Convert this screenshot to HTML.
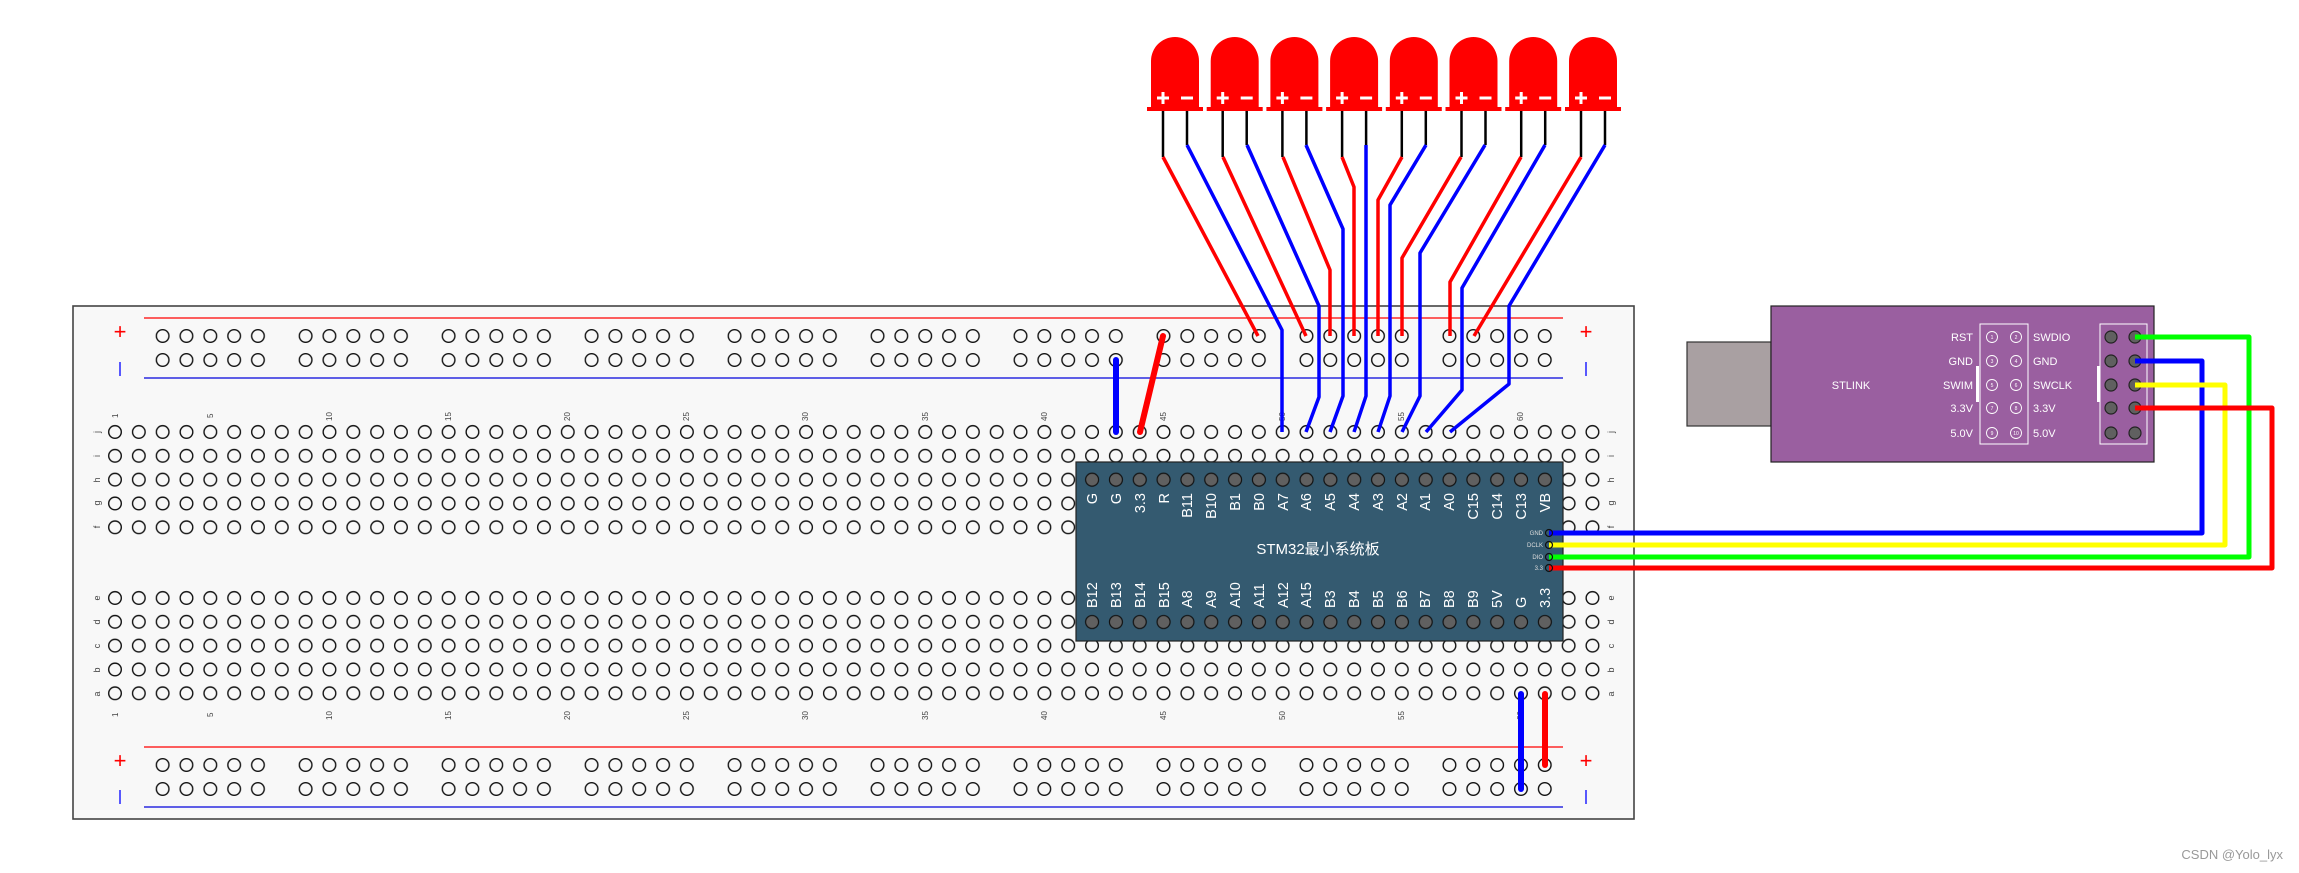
<!DOCTYPE html>
<html><head><meta charset="utf-8"><style>
html,body{margin:0;padding:0;background:#fff;}
svg{display:block;}
text{font-family:"Liberation Sans","DejaVu Sans","Noto Sans CJK SC",sans-serif;}
</style></head><body>
<svg width="2299" height="873" viewBox="0 0 2299 873" xmlns="http://www.w3.org/2000/svg">
<defs>
<pattern id="hole" x="103.1" y="420.1" width="23.83" height="23.83" patternUnits="userSpaceOnUse">
<circle cx="11.9" cy="11.9" r="6.3" fill="none" stroke="#111" stroke-width="1.4"/>
</pattern>
<pattern id="holeB" x="103.1" y="586.1" width="23.83" height="23.83" patternUnits="userSpaceOnUse">
<circle cx="11.9" cy="11.9" r="6.3" fill="none" stroke="#111" stroke-width="1.4"/>
</pattern>
<pattern id="rail" x="150.75" y="324" width="142.98" height="24" patternUnits="userSpaceOnUse">
<circle cx="11.9" cy="12" r="6.3" fill="none" stroke="#111" stroke-width="1.4"/>
<circle cx="35.7" cy="12" r="6.3" fill="none" stroke="#111" stroke-width="1.4"/>
<circle cx="59.6" cy="12" r="6.3" fill="none" stroke="#111" stroke-width="1.4"/>
<circle cx="83.4" cy="12" r="6.3" fill="none" stroke="#111" stroke-width="1.4"/>
<circle cx="107.2" cy="12" r="6.3" fill="none" stroke="#111" stroke-width="1.4"/>
</pattern>
<pattern id="railB" x="150.75" y="753" width="142.98" height="24" patternUnits="userSpaceOnUse">
<circle cx="11.9" cy="12" r="6.3" fill="none" stroke="#111" stroke-width="1.4"/>
<circle cx="35.7" cy="12" r="6.3" fill="none" stroke="#111" stroke-width="1.4"/>
<circle cx="59.6" cy="12" r="6.3" fill="none" stroke="#111" stroke-width="1.4"/>
<circle cx="83.4" cy="12" r="6.3" fill="none" stroke="#111" stroke-width="1.4"/>
<circle cx="107.2" cy="12" r="6.3" fill="none" stroke="#111" stroke-width="1.4"/>
</pattern>
<pattern id="pin" x="1080.2" y="467.7" width="23.83" height="300" patternUnits="userSpaceOnUse">
<circle cx="11.9" cy="12" r="6.5" fill="#606060" stroke="#111" stroke-width="1.2"/>
<circle cx="11.9" cy="154.3" r="6.5" fill="#606060" stroke="#111" stroke-width="1.2"/>
</pattern>
<g id="led">
<path d="M0,61 A24,24 0 0 1 48,61 L48,70 L48,107 L52,107 L52,111 L-4,111 L-4,107 L0,107 Z" fill="#ff0000"/>
<rect x="6" y="96.5" width="12" height="3" fill="#fff"/>
<rect x="10.5" y="92" width="3" height="12" fill="#fff"/>
<rect x="30" y="96.5" width="12" height="3" fill="#fff"/>
<line x1="12" y1="111" x2="12" y2="157" stroke="#000" stroke-width="2.5"/>
<line x1="36" y1="111" x2="36" y2="145" stroke="#000" stroke-width="2.5"/>
</g>
</defs>
<g transform="translate(0,-24)" opacity="0"></g>

<!-- breadboard -->
<rect x="73" y="306" width="1561" height="513" fill="#f8f8f8" stroke="#444" stroke-width="1.6"/>
<line x1="144" y1="318" x2="1563" y2="318" stroke="#f00" stroke-width="1.3"/>
<line x1="144" y1="378" x2="1563" y2="378" stroke="#2a2ae0" stroke-width="1.6"/>
<line x1="144" y1="747" x2="1563" y2="747" stroke="#f00" stroke-width="1.3"/>
<line x1="144" y1="807" x2="1563" y2="807" stroke="#2a2ae0" stroke-width="1.6"/>
<rect x="150.75" y="324" width="1429.8" height="48" fill="url(#rail)"/>
<rect x="150.75" y="753" width="1429.8" height="48" fill="url(#railB)"/>
<rect x="103.1" y="420.1" width="1501.3" height="119.2" fill="url(#hole)"/>
<rect x="103.1" y="586.1" width="1501.3" height="119.2" fill="url(#holeB)"/>
<g fill="#f00" font-size="22" text-anchor="middle">
<text x="120" y="339">+</text><text x="1586" y="339">+</text>
<text x="120" y="768">+</text><text x="1586" y="768">+</text>
</g>
<g stroke="#22f" stroke-width="1.5">
<line x1="120" y1="362" x2="120" y2="376"/><line x1="1586" y1="362" x2="1586" y2="376"/>
<line x1="120" y1="790" x2="120" y2="804"/><line x1="1586" y1="790" x2="1586" y2="804"/>
</g>
<g font-size="8" fill="#444">
<text transform="translate(118,418) rotate(-90)">1</text>
<text transform="translate(213,418) rotate(-90)">5</text>
<text transform="translate(332,421) rotate(-90)">10</text>
<text transform="translate(451,421) rotate(-90)">15</text>
<text transform="translate(570,421) rotate(-90)">20</text>
<text transform="translate(689,421) rotate(-90)">25</text>
<text transform="translate(808,421) rotate(-90)">30</text>
<text transform="translate(928,421) rotate(-90)">35</text>
<text transform="translate(1047,421) rotate(-90)">40</text>
<text transform="translate(1166,421) rotate(-90)">45</text>
<text transform="translate(1285,421) rotate(-90)">50</text>
<text transform="translate(1404,421) rotate(-90)">55</text>
<text transform="translate(1523,421) rotate(-90)">60</text>
<text transform="translate(118,717) rotate(-90)">1</text>
<text transform="translate(213,717) rotate(-90)">5</text>
<text transform="translate(332,720) rotate(-90)">10</text>
<text transform="translate(451,720) rotate(-90)">15</text>
<text transform="translate(570,720) rotate(-90)">20</text>
<text transform="translate(689,720) rotate(-90)">25</text>
<text transform="translate(808,720) rotate(-90)">30</text>
<text transform="translate(928,720) rotate(-90)">35</text>
<text transform="translate(1047,720) rotate(-90)">40</text>
<text transform="translate(1166,720) rotate(-90)">45</text>
<text transform="translate(1285,720) rotate(-90)">50</text>
<text transform="translate(1404,720) rotate(-90)">55</text>
<text transform="translate(1523,720) rotate(-90)">60</text>
</g>
<g font-size="9" fill="#444" text-anchor="middle">
<text transform="translate(100,432) rotate(-90)">j</text>
<text transform="translate(100,456) rotate(-90)">i</text>
<text transform="translate(100,480) rotate(-90)">h</text>
<text transform="translate(100,503) rotate(-90)">g</text>
<text transform="translate(100,527) rotate(-90)">f</text>
<text transform="translate(100,598) rotate(-90)">e</text>
<text transform="translate(100,622) rotate(-90)">d</text>
<text transform="translate(100,646) rotate(-90)">c</text>
<text transform="translate(100,670) rotate(-90)">b</text>
<text transform="translate(100,694) rotate(-90)">a</text>
<text transform="translate(1614,432) rotate(-90)">j</text>
<text transform="translate(1614,456) rotate(-90)">i</text>
<text transform="translate(1614,480) rotate(-90)">h</text>
<text transform="translate(1614,503) rotate(-90)">g</text>
<text transform="translate(1614,527) rotate(-90)">f</text>
<text transform="translate(1614,598) rotate(-90)">e</text>
<text transform="translate(1614,622) rotate(-90)">d</text>
<text transform="translate(1614,646) rotate(-90)">c</text>
<text transform="translate(1614,670) rotate(-90)">b</text>
<text transform="translate(1614,694) rotate(-90)">a</text>
</g>

<!-- STM32 board -->
<rect x="1076" y="462" width="487" height="179" fill="#345a70" stroke="#222" stroke-width="1.2"/>
<rect x="1080.2" y="467.7" width="476.6" height="170" fill="url(#pin)"/>
<g fill="#fff" font-size="14.5" text-anchor="end">
<text transform="translate(1097,493) rotate(-90)">G</text>
<text transform="translate(1121,493) rotate(-90)">G</text>
<text transform="translate(1145,493) rotate(-90)">3.3</text>
<text transform="translate(1169,493) rotate(-90)">R</text>
<text transform="translate(1192,493) rotate(-90)">B11</text>
<text transform="translate(1216,493) rotate(-90)">B10</text>
<text transform="translate(1240,493) rotate(-90)">B1</text>
<text transform="translate(1264,493) rotate(-90)">B0</text>
<text transform="translate(1288,493) rotate(-90)">A7</text>
<text transform="translate(1311,493) rotate(-90)">A6</text>
<text transform="translate(1335,493) rotate(-90)">A5</text>
<text transform="translate(1359,493) rotate(-90)">A4</text>
<text transform="translate(1383,493) rotate(-90)">A3</text>
<text transform="translate(1407,493) rotate(-90)">A2</text>
<text transform="translate(1430,493) rotate(-90)">A1</text>
<text transform="translate(1454,493) rotate(-90)">A0</text>
<text transform="translate(1478,493) rotate(-90)">C15</text>
<text transform="translate(1502,493) rotate(-90)">C14</text>
<text transform="translate(1526,493) rotate(-90)">C13</text>
<text transform="translate(1550,493) rotate(-90)">VB</text>
</g>
<g fill="#fff" font-size="14.5" text-anchor="start">
<text transform="translate(1097,608) rotate(-90)">B12</text>
<text transform="translate(1121,608) rotate(-90)">B13</text>
<text transform="translate(1145,608) rotate(-90)">B14</text>
<text transform="translate(1169,608) rotate(-90)">B15</text>
<text transform="translate(1192,608) rotate(-90)">A8</text>
<text transform="translate(1216,608) rotate(-90)">A9</text>
<text transform="translate(1240,608) rotate(-90)">A10</text>
<text transform="translate(1264,608) rotate(-90)">A11</text>
<text transform="translate(1288,608) rotate(-90)">A12</text>
<text transform="translate(1311,608) rotate(-90)">A15</text>
<text transform="translate(1335,608) rotate(-90)">B3</text>
<text transform="translate(1359,608) rotate(-90)">B4</text>
<text transform="translate(1383,608) rotate(-90)">B5</text>
<text transform="translate(1407,608) rotate(-90)">B6</text>
<text transform="translate(1430,608) rotate(-90)">B7</text>
<text transform="translate(1454,608) rotate(-90)">B8</text>
<text transform="translate(1478,608) rotate(-90)">B9</text>
<text transform="translate(1502,608) rotate(-90)">5V</text>
<text transform="translate(1526,608) rotate(-90)">G</text>
<text transform="translate(1550,608) rotate(-90)">3.3</text>
</g>
<text x="1318" y="554" fill="#fff" font-size="15" text-anchor="middle" font-family="'Liberation Sans','Noto Sans CJK SC',sans-serif">STM32最小系统板</text>
<g fill="#ddd" font-size="6" text-anchor="end">
<text x="1543" y="535">GND</text><text x="1543" y="547">DCLK</text><text x="1543" y="559">DIO</text><text x="1543" y="570">3.3</text>
</g>

<!-- STLINK -->
<rect x="1687" y="342" width="84" height="84" fill="#a9a0a2" stroke="#333" stroke-width="1.2"/>
<rect x="1771" y="306" width="383" height="156" fill="#9a5fa0" stroke="#222" stroke-width="1.2"/>
<text x="1851" y="389" fill="#fff" font-size="11" text-anchor="middle">STLINK</text>
<g fill="#fff" font-size="11" text-anchor="end">
<text x="1973" y="341">RST</text><text x="1973" y="365">GND</text><text x="1973" y="389">SWIM</text><text x="1973" y="412">3.3V</text><text x="1973" y="437">5.0V</text>
</g>
<g fill="#fff" font-size="11">
<text x="2033" y="341">SWDIO</text><text x="2033" y="365">GND</text><text x="2033" y="389">SWCLK</text><text x="2033" y="412">3.3V</text><text x="2033" y="437">5.0V</text>
</g>
<rect x="1980" y="324" width="48" height="120" fill="none" stroke="#fff" stroke-width="1"/>
<rect x="1976" y="366" width="3" height="36" fill="#fff"/>
<g fill="none" stroke="#fff" stroke-width="0.9">
<circle cx="1992" cy="337" r="5.5"/><circle cx="2016" cy="337" r="5.5"/>
<circle cx="1992" cy="361" r="5.5"/><circle cx="2016" cy="361" r="5.5"/>
<circle cx="1992" cy="385" r="5.5"/><circle cx="2016" cy="385" r="5.5"/>
<circle cx="1992" cy="408" r="5.5"/><circle cx="2016" cy="408" r="5.5"/>
<circle cx="1992" cy="433" r="5.5"/><circle cx="2016" cy="433" r="5.5"/>
</g>
<g fill="#fff" font-size="5" text-anchor="middle">
<text x="1992" y="339">1</text><text x="2016" y="339">2</text>
<text x="1992" y="363">3</text><text x="2016" y="363">4</text>
<text x="1992" y="387">5</text><text x="2016" y="387">6</text>
<text x="1992" y="410">7</text><text x="2016" y="410">8</text>
<text x="1992" y="435">9</text><text x="2016" y="435">10</text>
</g>
<rect x="2100" y="324" width="47" height="120" fill="none" stroke="#fff" stroke-width="1"/>
<rect x="2097" y="366" width="3" height="36" fill="#fff"/>
<g fill="#606060" stroke="#222" stroke-width="1.2">
<circle cx="2111" cy="337" r="6"/><circle cx="2135" cy="337" r="6"/>
<circle cx="2111" cy="361" r="6"/><circle cx="2135" cy="361" r="6"/>
<circle cx="2111" cy="385" r="6"/><circle cx="2135" cy="385" r="6"/>
<circle cx="2111" cy="408" r="6"/><circle cx="2135" cy="408" r="6"/>
<circle cx="2111" cy="433" r="6"/><circle cx="2135" cy="433" r="6"/>
</g>

<!-- SWD wires -->
<g fill="none" stroke-width="5" stroke-linejoin="round">
<polyline points="1549,533 2202,533 2202,361 2135,361" stroke="#0000ff"/>
<polyline points="1549,545 2225,545 2225,385 2135,385" stroke="#ffff00"/>
<polyline points="1549,557 2249,557 2249,337 2135,337" stroke="#00ff00"/>
<polyline points="1549,568 2272,568 2272,408 2135,408" stroke="#ff0000"/>
</g>
<g fill="#fff" stroke="#111" stroke-width="1.2">
<circle cx="1549" cy="533" r="3.5" fill="none"/><circle cx="1549" cy="545" r="3.5" fill="none"/>
<circle cx="1549" cy="557" r="3.5" fill="none"/><circle cx="1549" cy="568" r="3.5" fill="none"/>
</g>

<!-- LEDs -->
<use href="#led" x="1151" y="0"/>
<use href="#led" x="1210.7" y="0"/>
<use href="#led" x="1270.4" y="0"/>
<use href="#led" x="1330.1" y="0"/>
<use href="#led" x="1389.8" y="0"/>
<use href="#led" x="1449.5" y="0"/>
<use href="#led" x="1509.2" y="0"/>
<use href="#led" x="1569" y="0"/>

<!-- LED wires -->
<g fill="none" stroke-width="3.5" stroke-linejoin="round">
<polyline stroke="#f00" points="1163,157 1258,336"/>
<polyline stroke="#00f" points="1187,145 1282,330 1282,432"/>
<polyline stroke="#f00" points="1223,157 1306,336"/>
<polyline stroke="#00f" points="1247,145 1319,306 1319,397 1306,432"/>
<polyline stroke="#f00" points="1283,157 1330,270 1330,336"/>
<polyline stroke="#00f" points="1306,145 1343,229 1343,396 1330,432"/>
<polyline stroke="#f00" points="1342,157 1354,187 1354,336"/>
<polyline stroke="#00f" points="1366,145 1366,396 1354,432"/>
<polyline stroke="#f00" points="1402,157 1378,200 1378,336"/>
<polyline stroke="#00f" points="1426,145 1390,205 1390,396 1378,432"/>
<polyline stroke="#f00" points="1461,157 1402,258 1402,336"/>
<polyline stroke="#00f" points="1485,145 1420,253 1420,396 1402,432"/>
<polyline stroke="#f00" points="1521,157 1450,282 1450,336"/>
<polyline stroke="#00f" points="1545,145 1462,288 1462,390 1426,432"/>
<polyline stroke="#f00" points="1581,157 1474,336"/>
<polyline stroke="#00f" points="1605,145 1509,306 1509,384 1450,432"/>
</g>

<!-- jumpers -->
<g fill="none" stroke-width="6" stroke-linecap="round">
<line x1="1116" y1="360" x2="1116" y2="432" stroke="#00f"/>
<line x1="1163" y1="336" x2="1140" y2="432" stroke="#f00"/>
<line x1="1521" y1="694" x2="1521" y2="789" stroke="#00f"/>
<line x1="1545" y1="694" x2="1545" y2="765" stroke="#f00"/>
</g>

<text x="2283" y="859" fill="#999" font-size="13" text-anchor="end">CSDN @Yolo_lyx</text>
</svg>
</body></html>
